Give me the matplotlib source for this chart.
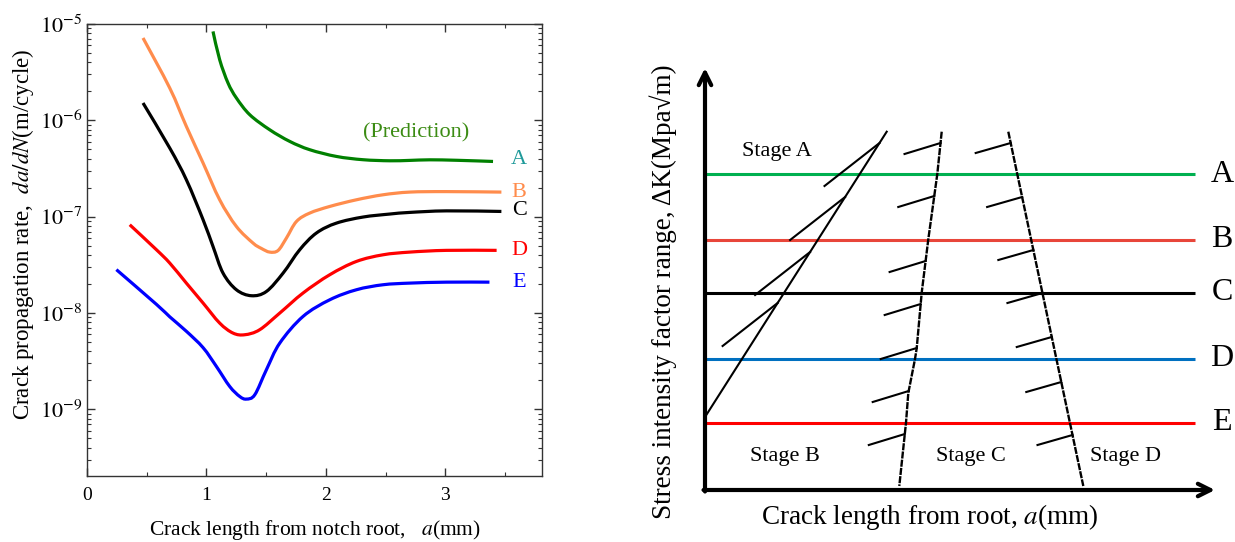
import numpy as np
import matplotlib
matplotlib.use("Agg")
import matplotlib.pyplot as plt
from matplotlib.path import Path
from matplotlib.patches import PathPatch

plt.rcParams['font.family'] = ['Liberation Serif', 'DejaVu Serif']
plt.rcParams['mathtext.fontset'] = 'stix'

# ---------------- Left panel data (crack length mm, log10 of da/dN m/cycle) -------------
x_A = [1.055, 1.111, 1.181, 1.251, 1.363, 1.53, 1.698, 1.865, 2.089, 2.312, 2.535, 2.703, 2.87, 3.1, 3.40]
lA = [-5.077, -5.371, -5.613, -5.768, -5.942, -6.098, -6.219, -6.305, -6.375, -6.409, -6.42, -6.416,
      -6.41, -6.415, -6.427]

x_B = [0.469, 0.693, 0.832, 0.972, 1.111, 1.251, 1.39, 1.46, 1.53, 1.6, 1.67, 1.754, 1.865, 2.033,
       2.256, 2.479, 2.703, 3.01, 3.47]
lB = [-5.145, -5.665, -6.063, -6.443, -6.825, -7.102, -7.274, -7.33, -7.368, -7.351, -7.222, -7.05,
      -6.963, -6.894, -6.825, -6.773, -6.745, -6.74, -6.745]

x_C = [0.469, 0.693, 0.832, 0.972, 1.055, 1.139, 1.251, 1.377, 1.502, 1.642, 1.781, 1.921, 2.089,
       2.312, 2.535, 2.703, 3.01, 3.47]
lC = [-5.82, -6.288, -6.617, -7.032, -7.309, -7.586, -7.759, -7.821, -7.777, -7.586, -7.344, -7.17,
      -7.067, -7.004, -6.973, -6.956, -6.94, -6.946]

x_D = [0.358, 0.581, 0.693, 0.832, 0.972, 1.111, 1.223, 1.321, 1.446, 1.614, 1.809, 2.033, 2.256,
       2.479, 2.703, 3.01, 3.43]
lD = [-7.084, -7.343, -7.482, -7.69, -7.897, -8.105, -8.209, -8.226, -8.174, -8.001, -7.793, -7.603,
      -7.465, -7.396, -7.368, -7.35, -7.35]

x_E = [0.246, 0.581, 0.693, 0.832, 0.972, 1.084, 1.195, 1.279, 1.335, 1.405, 1.502, 1.614, 1.809,
       2.033, 2.256, 2.479, 2.703, 3.01, 3.37]
lE = [-7.55, -7.91, -8.04, -8.19, -8.36, -8.556, -8.763, -8.867, -8.894, -8.849, -8.59, -8.313,
      -8.036, -7.863, -7.759, -7.707, -7.69, -7.68, -7.68]

curve_names = ['A', 'B', 'C', 'D', 'E']
curve_colors = ['#008000', '#ff8c4c', '#000000', '#ff0000', '#0000ff']
label_colors = ['#1f9a9a', '#ff8c4c', '#000000', '#ff0000', '#0000ff']
label_y = [3.9e-7, 1.8e-7, 1.15e-7, 4.5e-8, 2.05e-8]

# ---------------- Right panel (schematic) data -------------
level_names = ['A', 'B', 'C', 'D', 'E']
level_values = [316, 250.5, 197.3, 131, 67.3]
level_colors = ['#00b050', '#e8463a', '#000000', '#0070c0', '#ff0000']

stageA_main_x = [0, 181.7]
stageA_main_y = [73, 358.3]
stageA_seg_end_y = [347, 293, 238, 187]

bc_x = [236.7, 232.3, 223.3, 216.7, 211.7, 210, 203.3, 201, 194.3]
bc_y = [358.3, 316, 250.7, 197.3, 141.7, 131, 97, 67.3, 4]
bc_hatch_y = [347, 294, 229, 186, 142, 99, 56]

cd_x = [303.3, 378.3]
cd_y = [358.3, 4]
cd_hatch_y = [347, 293, 240, 197, 153, 108, 55]

stage_names = ['Stage A', 'Stage B', 'Stage C', 'Stage D']
stage_x = [72, 80, 266, 420]
stage_y = [338.3, 34, 34, 34]


def smooth_path(xs, ls):
    """Bezier path through the read points (Catmull-Rom control points), y in linear units."""
    P = np.column_stack([xs, ls]).astype(float)
    Q = np.vstack([P[0], P, P[-1]])
    verts = [P[0]]
    codes = [Path.MOVETO]
    for i in range(1, len(Q) - 2):
        p0, p1, p2, p3 = Q[i - 1], Q[i], Q[i + 1], Q[i + 2]
        verts += [p1 + (p2 - p0) / 6.0, p2 - (p3 - p1) / 6.0, p2]
        codes += [Path.CURVE4] * 3
    verts = np.array(verts)
    verts[:, 1] = 10.0 ** verts[:, 1]
    return Path(verts, codes)


W, H = 1235, 542
fig = plt.figure(figsize=(W / 100, H / 100), dpi=100)

# ---------------- Left axes ----------------
ax = fig.add_axes([87 / W, (H - 476) / H, (542 - 87) / W, (476 - 24) / H])
ax.set_yscale('log')
ax.set_xlim(0, 3.81)
ax.set_ylim(2.03e-10, 1e-5)
for xs, ls, c in zip([x_A, x_B, x_C, x_D, x_E], [lA, lB, lC, lD, lE], curve_colors):
    ax.add_patch(PathPatch(smooth_path(xs, ls), facecolor='none', edgecolor=c, lw=2.3,
                           capstyle='butt', joinstyle='round'))
ax.set_xticks([0, 1, 2, 3])
ax.set_xticks([0.5, 1.5, 2.5, 3.5], minor=True)
ax.set_yticks([1e-9, 1e-8, 1e-7, 1e-6, 1e-5])
ax.set_yticklabels([r'$10^{-9}$', r'$10^{-8}$', r'$10^{-7}$', r'$10^{-6}$', r'$10^{-5}$'])
ax.tick_params(which='both', direction='in', top=True, right=True, colors='#333333',
               labelcolor='black')
ax.tick_params(axis='y', labelsize=16)
ax.tick_params(axis='x', labelsize=14, pad=8)
ax.tick_params(which='major', length=6, width=1)
ax.tick_params(which='minor', length=3, width=0.8)
for s in ax.spines.values():
    s.set_color('#333333')
    s.set_linewidth(1.0)
ax.set_xlabel(r'Crack length from notch root,   $\mathit{a}$(mm)', fontsize=15.5, labelpad=10)
ax.set_ylabel(r'Crack propagation rate,  $\mathit{da/dN}$(m/cycle)', fontsize=16.5)
ax.yaxis.set_label_coords(-0.112, 0.535)
for name, lc, ly in zip(curve_names, label_colors, label_y):
    ax.text(3.62, ly, name, color=lc, fontsize=16, ha='center', va='center')
ax.text(2.76, 7.4e-7, '(Prediction)', color='#3c8c14', fontsize=16, ha='center', va='center')

# ---------------- Right axes ----------------
ar = fig.add_axes([705 / W, (H - 490) / H, 510 / W, 422 / H])
ar.set_xlim(0, 510)
ar.set_ylim(0, 422)
ar.axis('off')
for lv, c in zip(level_values, level_colors):
    ar.plot([0, 490], [lv, lv], color=c, lw=2.2, solid_capstyle='butt')
for name, lv in zip(level_names, level_values):
    ar.text(517, lv, name, fontsize=23, ha='center', va='center', clip_on=False)

lk = dict(color='black', lw=1.5)
ar.plot(stageA_main_x, stageA_main_y, **lk)
slopeA = (stageA_main_x[1] - stageA_main_x[0]) / (stageA_main_y[1] - stageA_main_y[0])
for ye in stageA_seg_end_y:
    xe = stageA_main_x[0] + slopeA * (ye - stageA_main_y[0])
    ar.plot([xe - 55, xe], [ye - 43, ye], **lk)

ar.plot(bc_x, bc_y, color='black', lw=1.7, dashes=(3, 0.5))
for ye in bc_hatch_y:
    xe = np.interp(ye, bc_y[::-1], bc_x[::-1])
    ar.plot([xe - 36, xe], [ye - 11, ye], **lk)

ar.plot(cd_x, cd_y, color='black', lw=1.7, dashes=(3, 0.5))
for ye in cd_hatch_y:
    xe = np.interp(ye, cd_y[::-1], cd_x[::-1])
    ar.plot([xe - 35, xe], [ye - 10, ye], **lk)

for name, sx, sy in zip(stage_names, stage_x, stage_y):
    ar.text(sx, sy, name, fontsize=16, ha='center', va='center')

arrow = dict(arrowstyle='->,head_length=0.9,head_width=0.45', lw=3, color='black',
             shrinkA=0, shrinkB=0)
ar.annotate('', xy=(510, 0), xytext=(-1.5, 0), arrowprops=arrow, annotation_clip=False)
ar.annotate('', xy=(0, 422), xytext=(0, -1.5), arrowprops=arrow, annotation_clip=False)

fig.text(930 / W, 1 - 517 / H, r'Crack length from root, $\mathit{a}$(mm)', fontsize=19.5,
         ha='center', va='center')
fig.text(663 / W, 1 - 292 / H, 'Stress intensity factor range, ΔK(Mpa√m)', fontsize=19.5,
         ha='center', va='center', rotation=90)

fig.savefig('out.png', dpi=100)
